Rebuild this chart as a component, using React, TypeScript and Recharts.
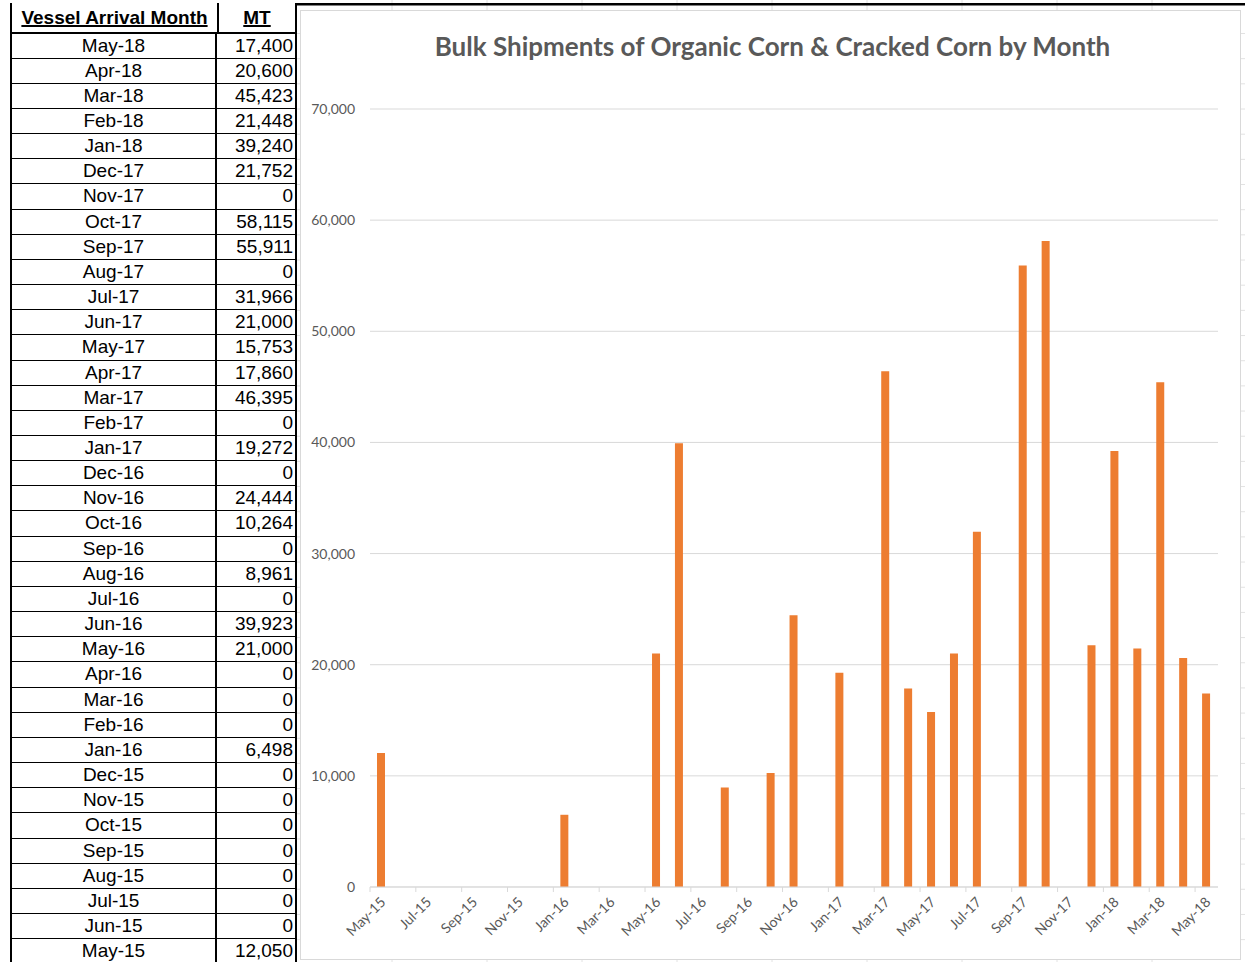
import { BarChart, Bar, XAxis, YAxis, CartesianGrid } from "recharts"

const months = [
  "May-15", "Jun-15", "Jul-15", "Aug-15", "Sep-15", "Oct-15", "Nov-15", "Dec-15",
  "Jan-16", "Feb-16", "Mar-16", "Apr-16", "May-16", "Jun-16", "Jul-16", "Aug-16",
  "Sep-16", "Oct-16", "Nov-16", "Dec-16", "Jan-17", "Feb-17", "Mar-17", "Apr-17",
  "May-17", "Jun-17", "Jul-17", "Aug-17", "Sep-17", "Oct-17", "Nov-17", "Dec-17",
  "Jan-18", "Feb-18", "Mar-18", "Apr-18", "May-18",
]

const shipments = [
  12050, 0, 0, 0, 0, 0, 0, 0,
  6498, 0, 0, 0, 21000, 39923, 0, 8961,
  0, 10264, 24444, 0, 19272, 0, 46395, 17860,
  15753, 21000, 31966, 0, 55911, 58115, 0, 21752,
  39240, 21448, 45423, 20600, 17400,
]

const yTicks = [0, 10000, 20000, 30000, 40000, 50000, 60000, 70000]

const data = months.map((month, i) => ({ month, mt: shipments[i] }))

const ROW_H = 25.17
const HEADER_BOTTOM = 33.5
const PLOT_W = 848
const chartFont = "Lato, 'Open Sans', sans-serif"
const gray = "#595959"

function MonthTick(props: any) {
  const { x, y, payload } = props
  const band = PLOT_W / months.length
  const tx = x + 5
  const ty = y + 16
  return (
    <g>
      <line x1={x - band / 2} x2={x - band / 2} y1={y} y2={y + 5} stroke="#d9d9d9" />
      <text
        x={tx}
        y={ty}
        transform={`rotate(-45 ${tx} ${ty})`}
        textAnchor="end"
        fill={gray}
        fontSize={14}
        fontFamily={chartFont}
      >
        {payload.value}
      </text>
    </g>
  )
}

function Table() {
  const rows = months.map((m, i) => ({ m, v: shipments[i] })).reverse()
  const cell = {
    boxSizing: "border-box" as const,
    height: ROW_H,
    borderBottom: "1px solid #000",
    fontFamily: "'Liberation Sans', Arial, sans-serif",
    fontSize: 19,
    lineHeight: `${ROW_H - 1}px`,
    color: "#000",
  }
  return (
    <div
      style={{
        position: "absolute",
        left: 10,
        top: 3,
        width: 287,
        background: "#fff",
        borderLeft: "2px solid #000",
        borderRight: "2px solid #000",
        boxSizing: "border-box",
      }}
    >
      <div style={{ display: "flex", height: HEADER_BOTTOM - 3, borderBottom: "2px solid #000", boxSizing: "border-box" }}>
        <div
          style={{
            width: 205,
            borderRight: "2px solid #000",
            textAlign: "center",
            fontFamily: "'Liberation Sans', Arial, sans-serif",
            fontWeight: "bold",
            fontSize: 19,
            lineHeight: "29px",
            textDecoration: "underline",
            textDecorationThickness: 2,
          }}
        >
          Vessel Arrival Month
        </div>
        <div
          style={{
            flex: 1,
            textAlign: "center",
            fontFamily: "'Liberation Sans', Arial, sans-serif",
            fontWeight: "bold",
            fontSize: 19,
            lineHeight: "29px",
            textDecoration: "underline",
            textDecorationThickness: 2,
          }}
        >
          MT
        </div>
      </div>
      {rows.map((r) => (
        <div key={r.m} style={{ display: "flex" }}>
          <div style={{ ...cell, width: 205, borderRight: "2px solid #000", textAlign: "center" }}>{r.m}</div>
          <div style={{ ...cell, flex: 1, textAlign: "right", paddingRight: 2 }}>{r.v.toLocaleString("en-US")}</div>
        </div>
      ))}
    </div>
  )
}

function SheetGrid() {
  const hLines = Array.from({ length: 38 }, (_, i) => HEADER_BOTTOM + i * ROW_H)
  const vLines = Array.from({ length: 10 }, (_, i) => 392 + i * 95)
  return (
    <svg width={1245} height={962} style={{ position: "absolute", left: 0, top: 0 }}>
      {hLines.map((y) => (
        <line key={`h${y}`} x1={297} x2={1245} y1={y} y2={y} stroke="#e2e2e2" />
      ))}
      {vLines.map((x) => (
        <line key={`v${x}`} x1={x} x2={x} y1={0} y2={962} stroke="#e2e2e2" />
      ))}
      <rect x={10} y={3} width={1235} height={2.5} fill="#000" />
    </svg>
  )
}

export default function App() {
  return (
    <div style={{ position: "absolute", left: 0, top: 0, width: 1245, height: 962, overflow: "hidden", background: "#fff" }}>
      <SheetGrid />
      <Table />
      <div
        style={{
          position: "absolute",
          left: 300,
          top: 10,
          width: 939,
          height: 948,
          border: "1px solid #d9d9d9",
          background: "#fff",
        }}
      >
        <div
          style={{
            position: "absolute",
            left: 2,
            top: 19,
            width: 939,
            textAlign: "center",
            fontFamily: chartFont,
            fontWeight: "bold",
            fontSize: 26,
            color: gray,
          }}
        >
          Bulk Shipments of Organic Corn &amp; Cracked Corn by Month
        </div>
        <BarChart
          width={937}
          height={946}
          data={data}
          margin={{ top: 98, right: 20, left: 0, bottom: 0 }}
        >
          <CartesianGrid vertical={false} stroke="#d9d9d9" />
          <XAxis
            dataKey="month"
            height={70}
            interval={1}
            tickSize={0}
            tickMargin={0}
            tickLine={false}
            axisLine={{ stroke: "#d9d9d9" }}
            tick={<MonthTick />}
          />
          <YAxis
            width={69}
            domain={[0, 70000]}
            ticks={yTicks}
            tickFormatter={(v: number) => v.toLocaleString("en-US")}
            axisLine={false}
            tickLine={false}
            tickSize={0}
            tickMargin={15}
            tick={{ fill: gray, fontSize: 14, fontFamily: chartFont }}
          />
          <Bar dataKey="mt" fill="#ED7D31" barSize={8} isAnimationActive={false} />
        </BarChart>
      </div>
    </div>
  )
}
